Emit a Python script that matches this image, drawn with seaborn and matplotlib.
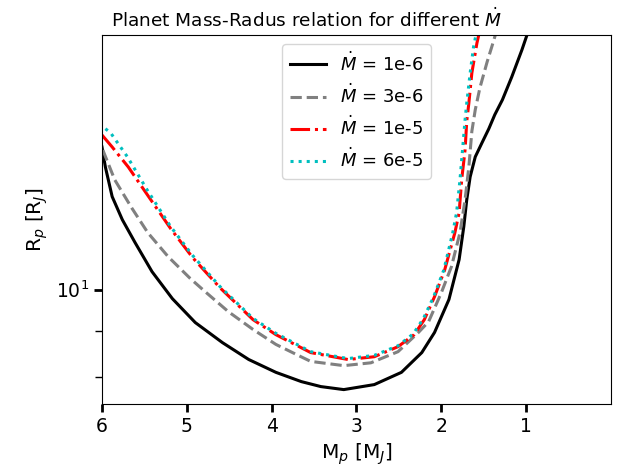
import matplotlib
matplotlib.use("Agg")
import matplotlib.pyplot as plt
from matplotlib.ticker import NullFormatter
import seaborn as sns
import pandas as pd

# Mdot = 1e-6
mass_1e6 = [6.00, 5.96, 5.88, 5.76, 5.61, 5.41, 5.17, 4.90, 4.58, 4.27, 3.95, 3.65,
            3.42, 3.15, 2.79, 2.47, 2.23, 2.08, 1.91, 1.79, 1.735, 1.70, 1.66, 1.60,
            1.52, 1.44, 1.37, 1.28, 1.17, 1.05, 0.99, 0.93]
radius_1e6 = [14.41, 13.69, 12.69, 11.96, 11.28, 10.47, 9.77, 9.19, 8.73, 8.36, 8.09, 7.90,
              7.80, 7.74, 7.84, 8.09, 8.51, 8.96, 9.75, 10.80, 11.75, 12.59, 13.35, 14.05,
              14.57, 15.10, 15.65, 16.26, 17.24, 18.48, 19.20, 19.95]

# Mdot = 3e-6
mass_3e6 = [5.99, 5.85, 5.65, 5.46, 5.22, 4.96, 4.78, 4.51, 4.22, 3.95, 3.71, 3.54,
            3.15, 2.83, 2.51, 2.27, 2.15, 2.00, 1.88, 1.78, 1.72, 1.675, 1.64, 1.60,
            1.545, 1.46, 1.38, 1.33]
radius_3e6 = [14.30, 13.25, 12.33, 11.57, 10.88, 10.29, 9.94, 9.45, 9.03, 8.69, 8.47, 8.32,
              8.23, 8.29, 8.53, 8.96, 9.21, 9.92, 10.61, 11.57, 12.59, 13.70, 15.00, 15.85,
              16.77, 17.92, 18.96, 19.70]

# Mdot = 1e-5
mass_1e5 = [6.00, 5.88, 5.69, 5.49, 5.19, 4.93, 4.61, 4.22, 3.95, 3.54, 3.10, 2.79,
            2.51, 2.32, 2.20, 2.08, 1.96, 1.84, 1.79, 1.76, 1.72, 1.70, 1.675, 1.64,
            1.58, 1.545]
radius_1e5 = [14.86, 14.41, 13.69, 12.85, 11.69, 10.85, 10.05, 9.26, 8.91, 8.51, 8.36, 8.42,
              8.64, 8.91, 9.26, 9.82, 10.52, 11.57, 12.18, 13.25, 14.30, 15.40, 16.13, 17.42,
              18.81, 19.45]

# Mdot = 6e-5
mass_6e5 = [5.96, 5.90, 5.70, 5.47, 5.19, 4.93, 4.61, 4.22, 3.95, 3.54, 3.10, 2.79,
            2.51, 2.33, 2.21, 2.09, 1.97, 1.865, 1.82, 1.78, 1.75, 1.72, 1.70, 1.66,
            1.62, 1.58]
radius_6e5 = [15.10, 14.95, 14.05, 12.92, 11.75, 10.91, 10.08, 9.29, 8.94, 8.53, 8.38, 8.45,
              8.66, 8.93, 9.29, 9.82, 10.52, 11.57, 12.18, 13.25, 14.30, 15.45, 16.13, 17.42,
              18.62, 19.45]

series = [
    (mass_1e6, radius_1e6, r"$\dot{M}$ = 1e-6", "k", "-"),
    (mass_3e6, radius_3e6, r"$\dot{M}$ = 3e-6", "gray", "--"),
    (mass_1e5, radius_1e5, r"$\dot{M}$ = 1e-5", "r", "-."),
    (mass_6e5, radius_6e5, r"$\dot{M}$ = 6e-5", "c", ":"),
]

fig = plt.figure(figsize=(6.23, 4.76), dpi=100)
ax = fig.add_axes([0.1637, 0.1513, 0.817, 0.7752])

for m, r, lab, col, ls in series:
    df = pd.DataFrame({"M": m, "R": r})
    sns.lineplot(x="M", y="R", data=df, ax=ax, sort=False, estimator=None,
                 color=col, linestyle=ls, linewidth=2.2, label=lab)

ax.set_yscale("log")
ax.set_xlim(6, 0)
ax.set_ylim(7.46, 19.2)
ax.set_xticks([6, 5, 4, 3, 2, 1])
ax.yaxis.set_minor_formatter(NullFormatter())
ax.tick_params(axis="both", which="major", labelsize=13.5, length=6, width=2)
ax.tick_params(axis="both", which="minor", length=5, width=1)

ax.set_xlabel(r"M$_p$ [M$_J$]", fontsize=14.5)
ax.set_ylabel(r"R$_p$ [R$_J$]", fontsize=14.5)
# title sits a little left of the axes centre in the original
ax.set_title(r"Planet Mass-Radus relation for different $\dot{M}$", fontsize=13.3, x=0.402)
ax.legend(loc="upper center", fontsize=13)

fig.savefig("out.png", dpi=100)
